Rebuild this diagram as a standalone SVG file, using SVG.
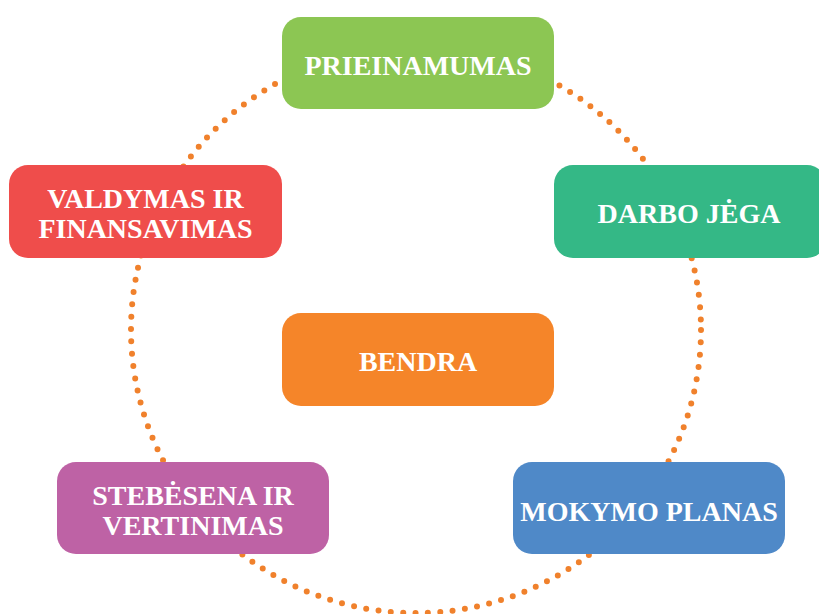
<svg xmlns="http://www.w3.org/2000/svg" width="819" height="614" viewBox="0 0 819 614">
<style>
.box{stroke:none}
.lbl{font-family:"Liberation Serif","Times New Roman",serif;font-weight:bold;font-size:28px;fill:#ffffff;text-anchor:middle}
.dots{fill:none;stroke:#F0812C;stroke-width:6;stroke-linecap:round;stroke-dasharray:0 12.4}
</style>
<rect width="819" height="614" fill="#ffffff"/>
<g id="connectors">
<ellipse class="dots" cx="416" cy="330" rx="285" ry="283"/>
</g>
<g id="prieinamumas">
<rect class="box" x="282" y="17" width="272" height="92" rx="19" fill="#8CC653"/>
<text class="lbl" x="418" y="75">PRIEINAMUMAS</text>
</g>
<g id="valdymas">
<rect class="box" x="9" y="165" width="273" height="93" rx="19" fill="#EF4D4B"/>
<text class="lbl" x="145.5" y="208">VALDYMAS IR</text>
<text class="lbl" x="145.5" y="238">FINANSAVIMAS</text>
</g>
<g id="darbo">
<rect class="box" x="554" y="165" width="272" height="93" rx="19" fill="#34B886"/>
<text class="lbl" x="689" y="223">DARBO JĖGA</text>
</g>
<g id="bendra">
<rect class="box" x="282" y="313" width="272" height="93" rx="19" fill="#F58529"/>
<text class="lbl" x="418" y="371">BENDRA</text>
</g>
<g id="stebesena">
<rect class="box" x="57" y="462" width="272" height="92" rx="19" fill="#BE62A5"/>
<text class="lbl" x="193" y="505">STEBĖSENA IR</text>
<text class="lbl" x="193" y="535">VERTINIMAS</text>
</g>
<g id="mokymo">
<rect class="box" x="513" y="462" width="272" height="92" rx="19" fill="#4F89C8"/>
<text class="lbl" x="649" y="521">MOKYMO PLANAS</text>
</g>
</svg>
